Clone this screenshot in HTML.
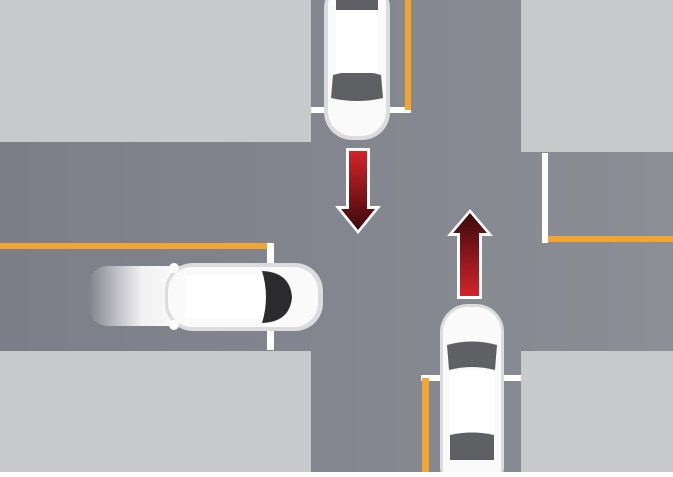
<!DOCTYPE html><html><head><style>body{margin:0}</style></head><body>
<svg width="673" height="472" xmlns="http://www.w3.org/2000/svg">
<defs>
<linearGradient id="rd" x1="0" y1="0" x2="1" y2="0"><stop offset="0" stop-color="#7c7e88"/><stop offset="1" stop-color="#8c8e96"/></linearGradient>
<linearGradient id="ad" x1="0" y1="0" x2="0" y2="1"><stop offset="0" stop-color="#d4232b"/><stop offset="1" stop-color="#3a0a0c"/></linearGradient>
<linearGradient id="au" x1="0" y1="1" x2="0" y2="0"><stop offset="0" stop-color="#d4232b"/><stop offset="1" stop-color="#3a0a0c"/></linearGradient>
<linearGradient id="blur" x1="0" y1="0" x2="1" y2="0"><stop offset="0" stop-color="#fff" stop-opacity="0"/><stop offset="0.5" stop-color="#f2f2f2"/><stop offset="1" stop-color="#fff"/></linearGradient>
</defs>
<rect width="673" height="472" fill="url(#rd)"/>
<rect x="0" y="0" width="311" height="142" fill="#c8c9cb"/>
<rect x="521" y="0" width="152" height="152" fill="#c8c9cb"/>
<rect x="0" y="351" width="311" height="121" fill="#c8c9cb"/>
<rect x="521" y="351" width="152" height="121" fill="#c8c9cb"/>
<!-- markings -->
<rect x="311" y="107" width="100" height="6" fill="#fff"/>
<rect x="405" y="0" width="6" height="110" fill="#f2a531"/>
<rect x="542" y="153" width="6" height="90" fill="#fff"/>
<rect x="548" y="236" width="125" height="6" fill="#f2a531"/>
<rect x="0" y="243" width="270" height="6" fill="#f2a531"/>
<rect x="267" y="243" width="7" height="107" fill="#fff"/>
<rect x="421" y="375" width="100" height="6" fill="#fff"/>
<rect x="422" y="378" width="7" height="94" fill="#f2a531"/>
<!-- top car -->
<g>
<rect x="324" y="-20" width="66" height="160" rx="28" fill="#dcdcde"/>
<rect x="328" y="-20" width="58" height="156" rx="25" fill="#fafafa"/>
<path d="M333 75 Q357 68 381 75 L383 98 Q357 104 331 98 Z" fill="#5f6064"/>
<rect x="336" y="0" width="42" height="10" fill="#5f6064"/>
<rect x="336" y="10" width="42" height="63" fill="#fff"/>
</g>
<!-- down arrow -->
<path d="M346 148 H370 V206 H381 L358 234 L335 206 H346 Z" fill="#fff"/>
<path d="M349 151 H367 V209 H375 L358 230 L341 209 H349 Z" fill="url(#ad)"/>
<!-- up arrow -->
<path d="M457 299 H482 V236 H493 L470 209 L447 236 H457 Z" fill="#fff"/>
<path d="M460 296 H479 V233 H487 L470 213 L453 233 H460 Z" fill="url(#au)"/>
<!-- left car -->
<g>
<rect x="88" y="266" width="110" height="60" rx="20" fill="url(#blur)"/>
<rect x="165" y="263" width="158" height="68" rx="28" fill="#dcdcde"/>
<rect x="168" y="267" width="150" height="60" rx="24" fill="#fafafa"/>
<rect x="185" y="275" width="80" height="44" fill="#fff"/>
<path d="M262 271 Q290 272 292 297 Q290 322 262 323 Q270 297 262 271 Z" fill="#2b2b2d"/>
<circle cx="174" cy="268" r="5" fill="#fff"/><circle cx="174" cy="325" r="5" fill="#fff"/>
</g>
<!-- bottom car -->
<g>
<rect x="440" y="304" width="64" height="190" rx="28" fill="#dcdcde"/>
<rect x="443" y="307" width="58" height="185" rx="25" fill="#fafafa"/>
<path d="M447 345 Q472 338 497 345 L495 370 Q472 364 449 370 Z" fill="#5f6064"/>
<rect x="450" y="370" width="44" height="65" fill="#fff"/>
<path d="M450 435 Q472 430 494 435 L494 460 L450 460 Z" fill="#5f6064"/>
</g>
</svg>
</body></html>
